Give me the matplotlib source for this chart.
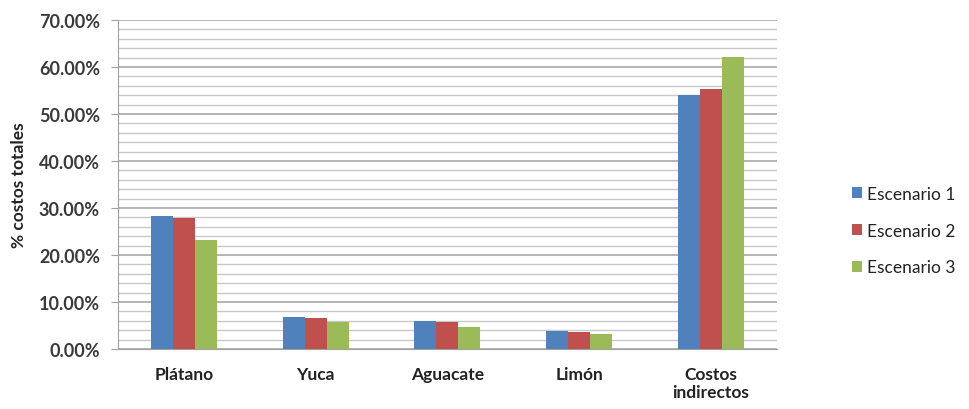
import numpy as np
import matplotlib.pyplot as plt
from matplotlib.ticker import MultipleLocator, FuncFormatter

categorias = ['Plátano', 'Yuca', 'Aguacate', 'Limón', 'Costos\nindirectos']
escenario_1 = [28.4, 6.8, 5.9, 3.8, 54.0]
escenario_2 = [27.8, 6.7, 5.8, 3.7, 55.3]
escenario_3 = [23.2, 5.8, 4.7, 3.2, 62.1]
series = ['Escenario 1', 'Escenario 2', 'Escenario 3']
colores = ['#4F81BD', '#C0504D', '#9BBB59']

plt.rcParams['font.family'] = ['Lato', 'DejaVu Sans']

fig = plt.figure(figsize=(9.69, 4.10), dpi=100)
ax = fig.add_axes([0.1218, 0.1463, 0.680, 0.8024])

x = np.arange(len(categorias))
ancho = 0.167
for i, (vals, nombre, color) in enumerate(zip([escenario_1, escenario_2, escenario_3],
                                               series, colores)):
    ax.bar(x + (i - 1) * ancho, vals, ancho, color=color, label=nombre, zorder=3)

ax.set_xlim(-0.5, len(categorias) - 0.5)
ax.set_ylim(0, 70)
ax.yaxis.set_major_locator(MultipleLocator(10))
ax.yaxis.set_minor_locator(MultipleLocator(2))
ax.yaxis.set_major_formatter(FuncFormatter(lambda v, _: f'{v:.2f}%'))

# rejilla principal y secundaria
ax.grid(axis='y', which='major', color='#a0a0a0', linewidth=1.1, zorder=0)
ax.grid(axis='y', which='minor', color='#c8c8c8', linewidth=1.0, zorder=0)

for lado in ['top', 'right']:
    ax.spines[lado].set_visible(False)
ax.spines['left'].set_color('#a0a0a0')
ax.spines['bottom'].set_color('#a0a0a0')

ax.tick_params(axis='y', which='major', length=5, color='#a0a0a0',
               labelsize=13, labelcolor='#3a3a3a', pad=8)
ax.tick_params(axis='y', which='minor', length=0)
ax.tick_params(axis='x', length=0, labelsize=12.5, labelcolor='#222222', pad=12)
for lbl in ax.get_yticklabels():
    lbl.set_fontweight('bold')

ax.set_xticks(x)
ax.set_xticklabels(categorias, fontweight='bold', linespacing=1.15, va='top')

ax.set_ylabel('% costos totales', fontsize=12.5, fontweight='bold', color='#222222')
ax.yaxis.set_label_coords(-0.138, 0.5)

ax.legend(loc='center left', bbox_to_anchor=(1.1138, 0.36), frameon=False,
          borderaxespad=0, borderpad=0,
          handlelength=0.58, handleheight=0.58, handletextpad=0.3,
          labelspacing=1.2, fontsize=12.5, labelcolor='#222222')

fig.savefig('out.png', dpi=100)
